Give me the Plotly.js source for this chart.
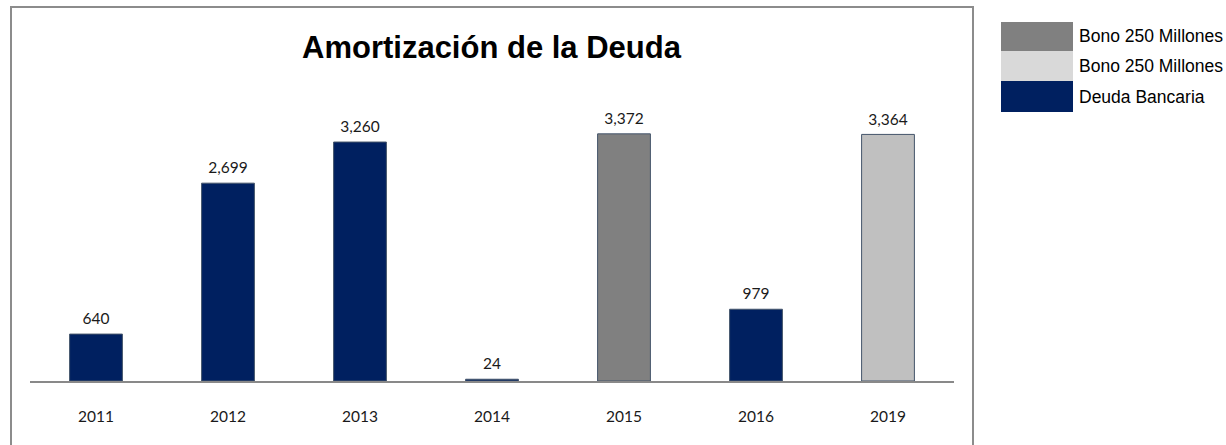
<!DOCTYPE html>
<html><head><meta charset="utf-8">
<script src="https://cdn.plot.ly/plotly-3.0.1.min.js"></script>
<style>html,body{margin:0;padding:0;background:#fff}#chart{width:1226px;height:445px}</style>
</head><body><div id="chart"></div>
<script>
const categories = ['2011','2012','2013','2014','2015','2016','2019'];
const deudaBancaria = [640, 2699, 3260, 24, null, 979, null];
const bono2015 = [null, null, null, null, 3372, null, null];
const bono2019 = [null, null, null, null, null, null, 3364];
const seriesNames = ['Bono 250 Millones', 'Bono 250 Millones', 'Deuda Bancaria'];
const titleText = 'Amortización de la Deuda';

const W = 1226, H = 445;
const M = {l: 30, r: 272, t: 100, b: 64};
const pw = W - M.l - M.r, ph = H - M.t - M.b;
const px = x => (x - M.l) / pw;
const py = y => (H - M.b - y) / ph;

const navy = '#002060', dark = '#808080', light = '#C0C0C0', lightSw = '#D9D9D9';
const outline = {color: '#44546A', width: 1};
const labelFont = {family: 'Lato, "Open Sans", sans-serif', size: 15.5, color: '#1a1a1a'};
const narrow = '"Liberation Sans Narrow", "Arial Narrow", "Liberation Sans", Arial, sans-serif';

function bar(vals, color, name) {
  return {type: 'bar', x: categories, y: vals, name: name, width: 0.4,
    marker: {color: color, line: outline}, hoverinfo: 'skip', showlegend: false};
}
function labels(vals) {
  return {type: 'scatter', mode: 'markers+text', x: categories, y: vals,
    marker: {size: 8, opacity: 0}, text: vals.map(v => v == null ? '' : v.toLocaleString('en-US')),
    textposition: 'top center', textfont: labelFont, cliponaxis: false, hoverinfo: 'skip', showlegend: false};
}
const data = [bar(deudaBancaria, navy, seriesNames[2]), bar(bono2015, dark, seriesNames[0]), bar(bono2019, light, seriesNames[1]),
  labels(deudaBancaria), labels(bono2015), labels(bono2019)];

const shapes = [
  {type: 'rect', xref: 'paper', yref: 'paper', x0: px(11), x1: px(973), y0: py(7), y1: py(470),
   line: {color: '#8C8C8C', width: 2}, fillcolor: 'rgba(0,0,0,0)', layer: 'below'}
];
const annotations = [
  {xref: 'paper', yref: 'paper', x: px(492), y: py(47), text: '<b>' + titleText + '</b>', showarrow: false,
   xanchor: 'center', yanchor: 'middle', font: {family: narrow, size: 31, color: '#000'}}
];
const legRows = [[22, 51, dark, seriesNames[0]], [51, 81, lightSw, seriesNames[1]], [81, 112, navy, seriesNames[2]]];
legRows.forEach(r => {
  shapes.push({type: 'rect', xref: 'paper', yref: 'paper', x0: px(1001), x1: px(1073), y0: py(r[1]), y1: py(r[0]),
    line: {width: 0}, fillcolor: r[2]});
  annotations.push({xref: 'paper', yref: 'paper', x: px(1077), y: py((r[0] + r[1]) / 2), text: r[3], showarrow: false,
    xanchor: 'left', yanchor: 'middle', font: {family: narrow, size: 17.5, color: '#000'}});
});

const layout = {
  width: W, height: H, margin: M, paper_bgcolor: '#fff', plot_bgcolor: '#fff',
  barmode: 'overlay', showlegend: false,
  xaxis: {type: 'category', showline: true, linecolor: '#898989', linewidth: 2, showgrid: false, zeroline: false,
    ticks: 'outside', ticklen: 20, tickcolor: 'rgba(0,0,0,0)', tickfont: labelFont, fixedrange: true},
  yaxis: {range: [0, ph / 0.0733], visible: false, fixedrange: true},
  shapes: shapes, annotations: annotations
};
Plotly.newPlot('chart', data, layout, {displayModeBar: false, staticPlot: true});
</script></body></html>
